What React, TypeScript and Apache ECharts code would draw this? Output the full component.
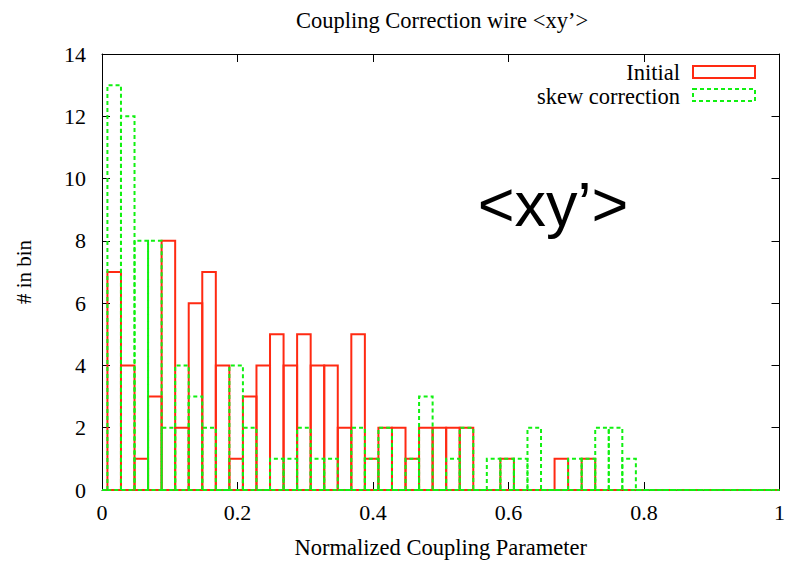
import React, { useEffect, useRef } from "react";
import * as echarts from "echarts";

// Histogram binning
const binWidth = 0.02;
const firstBinStart = -0.012;

// counts per bin (bin k spans firstBinStart + k*binWidth ... + binWidth)
const initialCounts = [
  0,
  7, 4, 1, 3, 8, 2, 6, 7, 4, 1,
  3, 4, 5, 4, 5, 4, 4, 2, 5, 1,
  2, 2, 1, 2, 2, 2, 2, 0, 0, 1,
  0, 0, 0, 1, 0, 1, 0, 0, 0, 0,
  0, 0, 0, 0, 0, 0, 0, 0, 0, 0,
];
const skewCounts = [
  0,
  13, 12, 8, 8, 2, 4, 3, 2, 0, 4,
  2, 0, 1, 1, 2, 1, 1, 0, 2, 1,
  2, 0, 1, 3, 0, 1, 2, 0, 1, 1,
  1, 2, 0, 0, 1, 1, 2, 2, 1, 0,
  0, 0, 0, 0, 0, 0, 0, 0, 0, 0,
];

const xTicks = [0, 0.2, 0.4, 0.6, 0.8, 1];
const yTicks = [0, 2, 4, 6, 8, 10, 12, 14];

const seriesNames = ["Initial", "skew correction"];
const titleText = "Coupling Correction wire <xy\u2019>";
const xName = "Normalized Coupling Parameter";
const yName = "# in bin";
const annotation = "<xy\u2019>";

const RED = "#ff2a12";
const GREEN = "#11f011";
const SERIF = "'Liberation Serif', 'DejaVu Serif', serif";

function toBins(counts: number[]) {
  return counts.map((c, k) => {
    const x0 = firstBinStart + k * binWidth;
    return [x0, x0 + binWidth, c];
  });
}

function makeRender(color: string, dash: number[] | null) {
  return (params: any, api: any) => {
    const cs = params.coordSys;
    const x0 = api.value(0);
    const x1 = api.value(1);
    const c = api.value(2);
    const pBottomLeft = api.coord([x0, 0]);
    const pTopRight = api.coord([x1, c]);
    const minX = cs.x;
    const maxX = cs.x + cs.width;
    if (pTopRight[0] < minX || pBottomLeft[0] > maxX) return null;
    const a = Math.max(minX, Math.min(maxX, pBottomLeft[0]));
    const b = Math.max(minX, Math.min(maxX, pTopRight[0]));
    const yb = pBottomLeft[1];
    const yt = pTopRight[1];
    return {
      type: "polygon",
      shape: { points: [[a, yb], [a, yt], [b, yt], [b, yb]] },
      style: {
        fill: "none",
        stroke: color,
        lineWidth: 2,
        lineDash: dash || undefined,
      },
    };
  };
}

export default function App() {
  const ref = useRef<HTMLDivElement>(null);

  useEffect(() => {
    if (!ref.current) return;
    const chart = echarts.init(ref.current, null, { renderer: "svg" });

    const labelStyle = {
      fontFamily: SERIF,
      fontSize: 22,
      color: "#000",
    };
    const lineStyle = { color: "#000", width: 1 };

    chart.setOption({
      animation: false,
      backgroundColor: "#fff",
      grid: { left: 102, right: 5, top: 54, bottom: 72, containLabel: false },
      xAxis: [
        {
          type: "value",
          min: xTicks[0],
          max: xTicks[xTicks.length - 1],
          interval: xTicks[1] - xTicks[0],
          position: "bottom",
          axisLine: { show: true, onZero: false, lineStyle },
          axisTick: { show: true, inside: true, length: 8, lineStyle },
          axisLabel: { ...labelStyle, margin: 11 },
          splitLine: { show: false },
          name: xName,
          nameLocation: "middle",
          nameGap: 46,
          nameTextStyle: { fontFamily: SERIF, fontSize: 22.5, color: "#000" },
        },
        {
          type: "value",
          min: xTicks[0],
          max: xTicks[xTicks.length - 1],
          interval: xTicks[1] - xTicks[0],
          position: "top",
          axisLine: { show: true, onZero: false, lineStyle },
          axisTick: { show: true, inside: true, length: 8, lineStyle },
          axisLabel: { show: false },
          splitLine: { show: false },
        },
      ],
      yAxis: [
        {
          type: "value",
          min: yTicks[0],
          max: yTicks[yTicks.length - 1],
          interval: yTicks[1] - yTicks[0],
          position: "left",
          axisLine: { show: true, onZero: false, lineStyle },
          axisTick: { show: true, inside: true, length: 8, lineStyle },
          axisLabel: { ...labelStyle, margin: 16 },
          splitLine: { show: false },
          name: yName,
          nameLocation: "middle",
          nameGap: 68,
          nameRotate: 90,
          nameTextStyle: { fontFamily: SERIF, fontSize: 21, color: "#000" },
        },
        {
          type: "value",
          min: yTicks[0],
          max: yTicks[yTicks.length - 1],
          interval: yTicks[1] - yTicks[0],
          position: "right",
          axisLine: { show: true, onZero: false, lineStyle },
          axisTick: { show: true, inside: true, length: 8, lineStyle },
          axisLabel: { show: false },
          splitLine: { show: false },
        },
      ],
      series: [
        {
          name: seriesNames[0],
          type: "custom",
          xAxisIndex: 0,
          yAxisIndex: 0,
          renderItem: makeRender(RED, null),
          encode: { x: [0, 1], y: 2 },
          data: toBins(initialCounts),
          z: 3,
          silent: true,
        },
        {
          name: seriesNames[1],
          type: "custom",
          xAxisIndex: 0,
          yAxisIndex: 0,
          renderItem: makeRender(GREEN, [4, 3]),
          encode: { x: [0, 1], y: 2 },
          data: toBins(skewCounts),
          z: 4,
          silent: true,
        },
      ],
      graphic: [
        {
          type: "text",
          x: 442,
          y: 20,
          style: {
            text: titleText,
            font: `22.5px ${SERIF}`,
            fill: "#000",
            textAlign: "center",
            textVerticalAlign: "middle",
          },
        },
        {
          type: "text",
          x: 680,
          y: 72,
          style: {
            text: seriesNames[0],
            font: `22.5px ${SERIF}`,
            fill: "#000",
            textAlign: "right",
            textVerticalAlign: "middle",
          },
        },
        {
          type: "rect",
          shape: { x: 693, y: 66, width: 62, height: 12 },
          style: { fill: "none", stroke: RED, lineWidth: 2 },
        },
        {
          type: "text",
          x: 680,
          y: 96,
          style: {
            text: seriesNames[1],
            font: `22.5px ${SERIF}`,
            fill: "#000",
            textAlign: "right",
            textVerticalAlign: "middle",
          },
        },
        {
          type: "rect",
          shape: { x: 693, y: 89, width: 62, height: 12 },
          style: { fill: "none", stroke: GREEN, lineWidth: 2, lineDash: [4, 3] },
        },
        {
          type: "text",
          x: 553,
          y: 204,
          style: {
            text: annotation,
            font: `63px 'Liberation Sans', Arial, sans-serif`,
            fill: "#000",
            textAlign: "center",
            textVerticalAlign: "middle",
          },
        },
      ],
    });

    return () => {
      chart.dispose();
    };
  }, []);

  return (
    <div
      ref={ref}
      style={{ position: "fixed", left: 0, top: 0, width: 788, height: 564 }}
    />
  );
}
